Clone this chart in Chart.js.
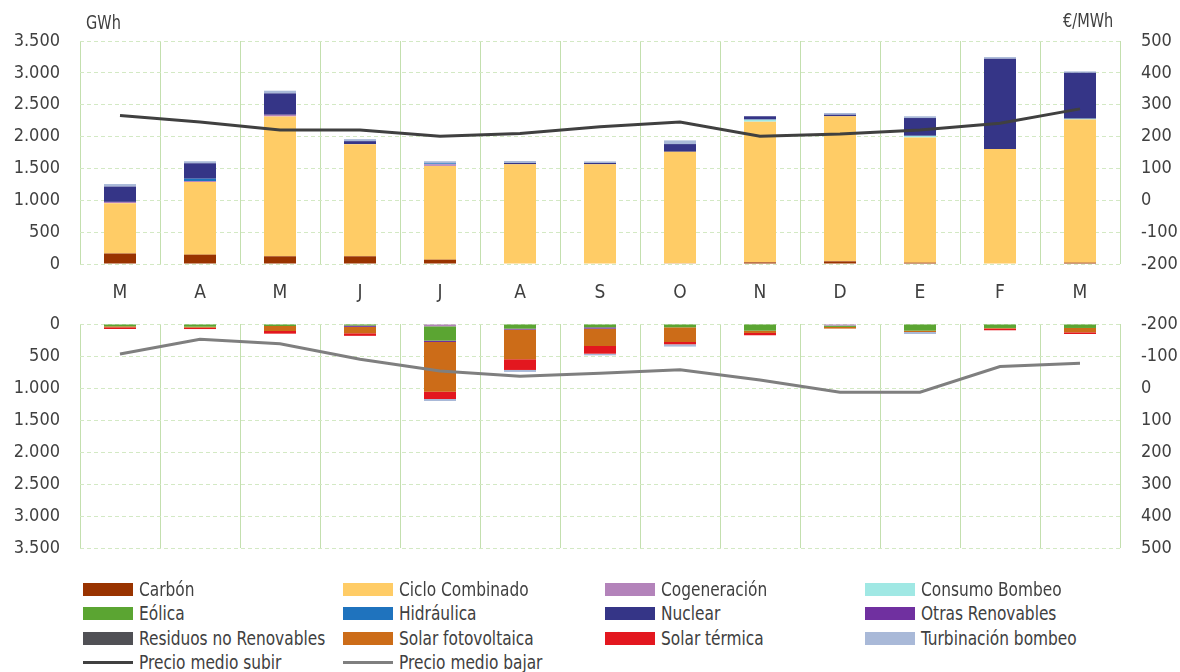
<!DOCTYPE html>
<html><head><meta charset="utf-8">
<script src="https://cdn.jsdelivr.net/npm/chart.js@4.4.1/dist/chart.umd.min.js"></script>
<style>
html,body{margin:0;padding:0;background:#fff;}
body{width:1180px;height:672px;overflow:hidden;position:relative;font-family:'Liberation Sans Narrow','Arial Narrow','DejaVu Sans Condensed',sans-serif;color:#404040;}
canvas{position:absolute;left:0;}
#c1{top:0;}
#c2{top:280px;}
.unit{position:absolute;font-size:19px;line-height:20px;transform:scaleX(0.85);transform-origin:left center;white-space:nowrap;}
.li{position:absolute;font-size:19px;line-height:20px;white-space:nowrap;transform:scaleX(0.9);transform-origin:left center;}
.sw{position:absolute;width:50px;height:13px;}
.ln{position:absolute;width:50px;height:3px;}
</style></head>
<body>
<canvas id="c1" width="1180" height="310"></canvas>
<canvas id="c2" width="1180" height="304"></canvas>
<div class="unit" style="left:86px;top:12px;">GWh</div>
<div class="unit" style="left:1063px;top:10px;">€/MWh</div>
<div id="legend"></div>
<script>
const FONT = "'Liberation Sans Narrow','Arial Narrow','DejaVu Sans Condensed',sans-serif";
const months = ['M','A','M','J','J','A','S','O','N','D','E','F','M'];
const leftTicks = [0,500,1000,1500,2000,2500,3000,3500];
const rightTicks = [-200,-100,0,100,200,300,400,500];

const seriesNames = ['Carbón','Ciclo Combinado','Cogeneración','Consumo Bombeo','Eólica','Hidráulica','Nuclear','Otras Renovables','Residuos no Renovables','Solar fotovoltaica','Solar térmica','Turbinación bombeo'];
const seriesColors = ['#993300','#FFCC66','#B383BA','#A0E8E4','#5BA532','#1F73BE','#353587','#7030A0','#505055','#CC6C18','#E3171F','#A9B9D8'];

// Energía a subir (GWh)
const upCarbon      = [165,147,121,121,68,0,0,10,26,42,21,0,21];
const upCiclo       = [790,1140,2195,1760,1472,1565,1565,1751,2208,2276,1966,1803,2245];
const upCogen       = [20,15,26,0,26,0,0,0,0,0,0,0,0];
const upConsumo     = [0,0,0,0,0,0,0,0,32,0,25,0,15];
const upEolica      = [0,0,0,0,0,0,0,0,0,0,0,0,0];
const upHidraulica  = [0,37,0,0,15,0,0,0,0,0,0,0,0];
const upNuclear     = [240,242,336,47,0,20,20,121,53,26,279,1419,720];
const upOtras       = [0,0,0,0,0,0,0,0,0,0,0,0,0];
const upResiduos    = [0,0,0,0,0,0,0,0,0,0,0,0,0];
const upSolarFV     = [0,0,0,0,0,0,0,0,0,0,0,0,0];
const upSolarT      = [0,0,0,0,0,0,0,0,0,0,0,0,0];
const upTurbinacion = [40,32,42,32,32,32,25,58,0,26,28,26,22];

// Energía a bajar (GWh)
const dnCarbon      = [0,0,0,0,0,0,0,0,0,0,0,0,0];
const dnCiclo       = [0,0,0,0,0,0,0,0,0,0,0,0,0];
const dnCogen       = [0,0,0,0,36,0,0,0,0,25,0,0,0];
const dnConsumo     = [0,0,0,0,0,0,0,0,0,0,0,0,0];
const dnEolica      = [36,42,31,25,224,73,52,52,104,21,104,62,62];
const dnHidraulica  = [0,0,0,0,0,0,0,0,0,0,0,0,0];
const dnNuclear     = [0,0,0,0,0,0,0,0,0,0,0,0,0];
const dnOtras       = [0,0,0,20,21,15,21,0,0,0,0,0,0];
const dnResiduos    = [0,0,0,0,0,0,0,0,0,0,0,0,0];
const dnSolarFV     = [16,16,78,100,776,463,271,229,36,26,21,10,68];
const dnSolarT      = [26,21,42,40,115,167,120,36,36,0,0,26,26];
const dnTurbinacion = [0,0,0,0,31,31,26,36,0,0,31,0,0];

// Precios (€/MWh)
const precioSubir = [266,246,221,221,201,210,231,246,201,208,221,242,287];
const precioBajar = [-106,-152,-138,-90,-53,-37,-46,-57,-25,13,13,-67,-77];

const upSeries = [upCarbon,upCiclo,upCogen,upConsumo,upEolica,upHidraulica,upNuclear,upOtras,upResiduos,upSolarFV,upSolarT,upTurbinacion];
const dnSeries = [dnCarbon,dnCiclo,dnCogen,dnConsumo,dnEolica,dnHidraulica,dnNuclear,dnOtras,dnResiduos,dnSolarFV,dnSolarT,dnTurbinacion];

const fmt = v => String(v).replace(/\B(?=(\d{3})+(?!\d))/g,'.');
const TXT = '#404040';
const VGRID = '#c3dfae';
const HGRID = '#d3e9c4';

function build(canvasId, series, price, priceColor, reverse, showX, pad, xHeight) {
  const datasets = series.map((d,i)=>({
    type:'bar', label:seriesNames[i], data:d, backgroundColor:seriesColors[i],
    borderWidth:0, yAxisID:'y', order:1, stack:'s',
    categoryPercentage:1.0, barPercentage:0.4
  }));
  datasets.push({
    type:'line', label:'precio', data:price, borderColor:priceColor, borderWidth:3,
    pointRadius:0, tension:0, yAxisID:'y1', order:0, fill:false
  });
  return new Chart(document.getElementById(canvasId), {
    data:{labels:months, datasets},
    options:{
      responsive:false, animation:false, devicePixelRatio:1,
      layout:{padding:pad},
      plugins:{legend:{display:false}, tooltip:{enabled:false}},
      scales:{
        x:{
          type:'category', stacked:true, offset:true,
          grid:{offset:true, color:VGRID, lineWidth:1, drawTicks:false},
          border:{display:false},
          ticks:{display:showX, color:TXT, font:{family:FONT,size:19}, padding:18},
          afterFit:s=>{s.height=xHeight;}
        },
        y:{
          position:'left', stacked:true, min:0, max:3500, reverse:reverse,
          afterBuildTicks:s=>{s.ticks=leftTicks.map(v=>({value:v}));},
          grid:{color:HGRID, lineWidth:1, drawTicks:false},
          border:{display:false, dash:[4,3]},
          ticks:{color:TXT, font:{family:FONT,size:18}, padding:20, callback:v=>fmt(v)},
          afterFit:s=>{s.width=80;}
        },
        y1:{
          position:'right', stacked:false, min:-200, max:500, reverse:reverse,
          afterBuildTicks:s=>{s.ticks=rightTicks.map(v=>({value:v}));},
          grid:{drawOnChartArea:false, drawTicks:false},
          border:{display:false},
          ticks:{color:TXT, font:{family:FONT,size:18}, padding:21, callback:v=>String(v)},
          afterFit:s=>{s.width=60;}
        }
      }
    }
  });
}

build('c1', upSeries, precioSubir, '#404040', false, true, {top:41,bottom:0,left:0,right:0}, 46);
build('c2', dnSeries, precioBajar, '#7f7f7f', true, false, {top:44,bottom:36,left:0,right:0}, 0);

// Legend
const leg = document.getElementById('legend');
const colX = [83,343,605,865];
const rowY = [589,613,638,662];
const items = seriesNames.map((n,i)=>({name:n,color:seriesColors[i],line:false}));
items.push({name:'Precio medio subir',color:'#404040',line:true});
items.push({name:'Precio medio bajar',color:'#7f7f7f',line:true});
items.forEach((it,i)=>{
  const cx = colX[i%4], cy = rowY[Math.floor(i/4)];
  const sw = document.createElement('div');
  sw.className = it.line ? 'ln' : 'sw';
  sw.style.left = cx+'px';
  sw.style.top = (it.line ? cy-1 : cy-6)+'px';
  sw.style.background = it.color;
  leg.appendChild(sw);
  const t = document.createElement('div');
  t.className='li'; t.textContent=it.name;
  t.style.left=(cx+56)+'px'; t.style.top=(cy-10)+'px';
  leg.appendChild(t);
});
</script>
</body></html>
